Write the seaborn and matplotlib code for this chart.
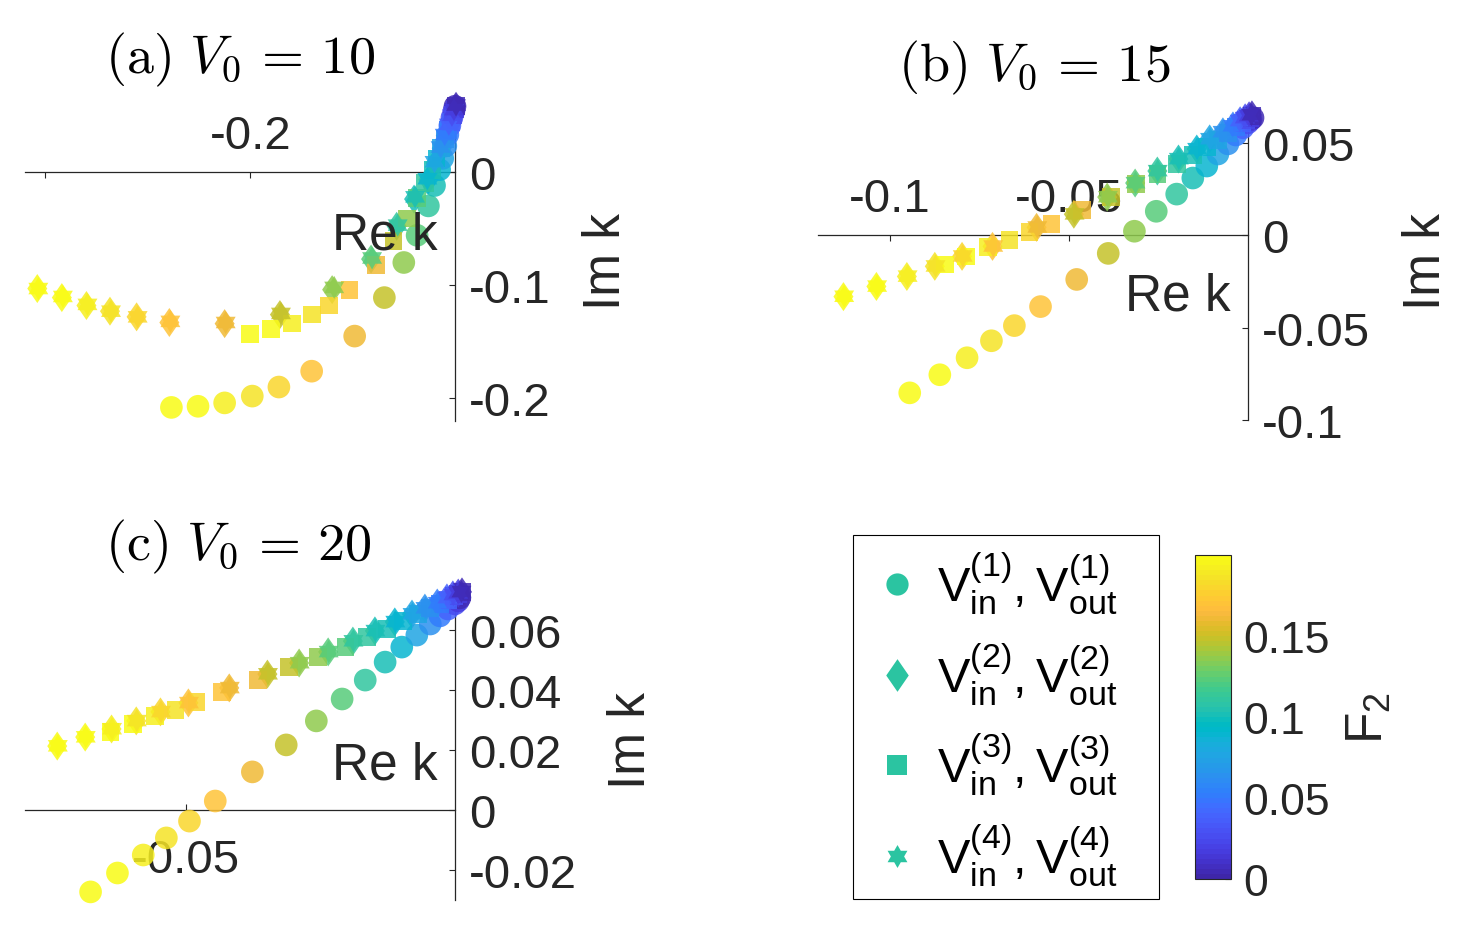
import numpy as np
import pandas as pd
import matplotlib
matplotlib.use("Agg")
import matplotlib.pyplot as plt
import seaborn as sns
from matplotlib.colors import ListedColormap, Normalize
from matplotlib.lines import Line2D
from matplotlib.markers import MarkerStyle
from matplotlib.patches import Rectangle
import matplotlib.cm as cm

# ---------------- data ----------------
F2 = [0.200, 0.197, 0.193, 0.187, 0.180, 0.170, 0.160, 0.148, 0.135, 0.122,
      0.110, 0.100, 0.088, 0.076, 0.064, 0.052, 0.040, 0.028, 0.016, 0.005]

# panel (a) V0 = 10
a_circ_re = [-0.277, -0.251, -0.225, -0.198, -0.172, -0.140, -0.098, -0.069, -0.050, -0.037,
             -0.026, -0.020, -0.015, -0.012, -0.009, -0.007, -0.005, -0.003, -0.001, 0.000]
a_circ_im = [-0.208, -0.207, -0.204, -0.198, -0.190, -0.176, -0.145, -0.111, -0.080, -0.056,
             -0.030, -0.012, 0.002, 0.012, 0.023, 0.033, 0.041, 0.048, 0.054, 0.058]
a_diam_re = [-0.408, -0.384, -0.360, -0.337, -0.311, -0.279, -0.225, -0.171, -0.120, -0.082,
             -0.057, -0.040, -0.026, -0.019, -0.013, -0.009, -0.005, -0.002, 0.000, 0.001]
a_diam_im = [-0.103, -0.111, -0.118, -0.123, -0.128, -0.133, -0.134, -0.126, -0.104, -0.077,
             -0.048, -0.024, -0.007, 0.008, 0.021, 0.032, 0.041, 0.049, 0.054, 0.058]
a_sq_re = [-0.200, -0.180, -0.159, -0.140, -0.123, -0.103, -0.077, -0.060, -0.047, -0.037,
           -0.029, -0.022, -0.018, -0.014, -0.010, -0.007, -0.004, -0.002, 0.000, 0.001]
a_sq_im = [-0.143, -0.139, -0.134, -0.126, -0.118, -0.104, -0.082, -0.061, -0.041, -0.023,
           -0.010, 0.002, 0.012, 0.021, 0.029, 0.037, 0.044, 0.050, 0.055, 0.058]
a_star_re = [-0.407, -0.383, -0.359, -0.336, -0.310, -0.278, -0.224, -0.170, -0.118, -0.081,
             -0.056, -0.039, -0.027, -0.020, -0.014, -0.010, -0.006, -0.003, -0.001, 0.001]
a_star_im = [-0.103, -0.110, -0.117, -0.123, -0.128, -0.132, -0.133, -0.125, -0.102, -0.076,
             -0.047, -0.022, -0.006, 0.009, 0.022, 0.033, 0.042, 0.050, 0.055, 0.059]

# panel (b) V0 = 15
b_circ_re = [-0.0944, -0.0860, -0.0784, -0.0716, -0.0652, -0.0579, -0.0478, -0.0390, -0.0317, -0.0256,
             -0.0199, -0.0154, -0.0115, -0.0084, -0.0056, -0.0034, -0.0014, 0.0000, 0.0008, 0.0014]
b_circ_im = [-0.0853, -0.0755, -0.0663, -0.0571, -0.0489, -0.0386, -0.0239, -0.0098, 0.0022, 0.0130,
             0.0223, 0.0310, 0.0375, 0.0440, 0.0495, 0.0543, 0.0582, 0.0609, 0.0625, 0.0636]
b_diam_re = [-0.1129, -0.1037, -0.0952, -0.0874, -0.0798, -0.0713, -0.0590, -0.0486, -0.0393, -0.0315,
             -0.0253, -0.0194, -0.0143, -0.0107, -0.0070, -0.0042, -0.0022, -0.0008, 0.0003, 0.0011]
b_diam_im = [-0.0332, -0.0277, -0.0223, -0.0168, -0.0114, -0.0060, 0.0043, 0.0114, 0.0207, 0.0283,
             0.0348, 0.0413, 0.0467, 0.0522, 0.0560, 0.0592, 0.0620, 0.0636, 0.0647, 0.0652]
b_sq_re = [-0.0846, -0.0787, -0.0725, -0.0666, -0.0610, -0.0548, -0.0463, -0.0382, -0.0312, -0.0253,
           -0.0199, -0.0154, -0.0115, -0.0084, -0.0056, -0.0034, -0.0017, -0.0006, 0.0006, 0.0011]
b_sq_im = [-0.0158, -0.0114, -0.0065, -0.0027, 0.0016, 0.0060, 0.0136, 0.0207, 0.0277, 0.0332,
           0.0386, 0.0435, 0.0478, 0.0516, 0.0554, 0.0587, 0.0609, 0.0625, 0.0636, 0.0647]
b_star_re = [-0.1127, -0.1035, -0.0950, -0.0872, -0.0796, -0.0711, -0.0588, -0.0484, -0.0391, -0.0314,
             -0.0252, -0.0193, -0.0142, -0.0106, -0.0071, -0.0043, -0.0023, -0.0009, 0.0002, 0.0010]
b_star_im = [-0.0330, -0.0275, -0.0221, -0.0166, -0.0112, -0.0058, 0.0045, 0.0116, 0.0209, 0.0285,
             0.0350, 0.0415, 0.0469, 0.0523, 0.0561, 0.0593, 0.0621, 0.0637, 0.0648, 0.0653]

# panel (c) V0 = 20
c_circ_re = [-0.0678, -0.0628, -0.0580, -0.0537, -0.0494, -0.0446, -0.0377, -0.0314, -0.0258, -0.0210,
             -0.0167, -0.0130, -0.0099, -0.0071, -0.0046, -0.0028, -0.0013, 0.0000, 0.0006, 0.0009]
c_circ_im = [-0.0273, -0.0210, -0.0150, -0.0093, -0.0037, 0.0030, 0.0127, 0.0217, 0.0297, 0.0370,
             0.0433, 0.0493, 0.0543, 0.0583, 0.0620, 0.0647, 0.0670, 0.0687, 0.0697, 0.0707]
c_diam_re = [-0.0740, -0.0688, -0.0639, -0.0593, -0.0548, -0.0496, -0.0420, -0.0349, -0.0290, -0.0236,
             -0.0190, -0.0149, -0.0112, -0.0080, -0.0056, -0.0033, -0.0015, -0.0004, 0.0006, 0.0013]
c_diam_im = [0.0213, 0.0243, 0.0270, 0.0297, 0.0327, 0.0357, 0.0407, 0.0453, 0.0490, 0.0527,
             0.0563, 0.0597, 0.0627, 0.0653, 0.0673, 0.0690, 0.0707, 0.0717, 0.0723, 0.0727]
c_sq_re = [-0.0641, -0.0599, -0.0558, -0.0520, -0.0481, -0.0433, -0.0366, -0.0309, -0.0255, -0.0204,
           -0.0164, -0.0126, -0.0097, -0.0069, -0.0046, -0.0028, -0.0013, -0.0002, 0.0006, 0.0013]
c_sq_im = [0.0260, 0.0287, 0.0313, 0.0333, 0.0360, 0.0393, 0.0433, 0.0477, 0.0510, 0.0543,
           0.0577, 0.0603, 0.0630, 0.0653, 0.0673, 0.0687, 0.0700, 0.0713, 0.0720, 0.0727]
c_star_re = [-0.0739, -0.0687, -0.0638, -0.0592, -0.0547, -0.0495, -0.0419, -0.0348, -0.0289, -0.0235,
             -0.0189, -0.0148, -0.0111, -0.0079, -0.0055, -0.0032, -0.0014, -0.0003, 0.0006, 0.0012]
c_star_im = [0.0214, 0.0244, 0.0271, 0.0298, 0.0328, 0.0358, 0.0408, 0.0454, 0.0491, 0.0528,
             0.0564, 0.0598, 0.0628, 0.0654, 0.0674, 0.0691, 0.0708, 0.0718, 0.0724, 0.0728]

titles = [r"$\mathrm{(a)}\ V_0\,=\,10$", r"$\mathrm{(b)}\ V_0\,=\,15$", r"$\mathrm{(c)}\ V_0\,=\,20$"]
legend_labels = [r"$\mathregular{V_{in}^{(%d)}, V_{out}^{(%d)}}$" % (i, i) for i in (1, 2, 3, 4)]
cbar_ticks = [0, 0.05, 0.1, 0.15]
cbar_ticklabels = ["0", "0.05", "0.1", "0.15"]

# ---------------- style ----------------
parula_rgb = [
    [0.2422, 0.1504, 0.6603], [0.2504, 0.1650, 0.7076], [0.2578, 0.1818, 0.7511], [0.2647, 0.1978, 0.7952],
    [0.2706, 0.2147, 0.8364], [0.2751, 0.2342, 0.8710], [0.2783, 0.2559, 0.8991], [0.2803, 0.2782, 0.9221],
    [0.2813, 0.3006, 0.9414], [0.2810, 0.3228, 0.9579], [0.2795, 0.3447, 0.9717], [0.2760, 0.3667, 0.9829],
    [0.2699, 0.3892, 0.9906], [0.2602, 0.4123, 0.9952], [0.2440, 0.4358, 0.9988], [0.2206, 0.4603, 0.9973],
    [0.1963, 0.4847, 0.9892], [0.1834, 0.5074, 0.9798], [0.1786, 0.5289, 0.9682], [0.1764, 0.5499, 0.9520],
    [0.1687, 0.5703, 0.9359], [0.1540, 0.5902, 0.9218], [0.1460, 0.6091, 0.9079], [0.1380, 0.6276, 0.8973],
    [0.1248, 0.6459, 0.8883], [0.1113, 0.6635, 0.8763], [0.0952, 0.6798, 0.8598], [0.0689, 0.6948, 0.8394],
    [0.0297, 0.7082, 0.8163], [0.0036, 0.7203, 0.7917], [0.0067, 0.7312, 0.7660], [0.0433, 0.7411, 0.7394],
    [0.0964, 0.7500, 0.7120], [0.1408, 0.7584, 0.6842], [0.1717, 0.7670, 0.6554], [0.1938, 0.7758, 0.6251],
    [0.2161, 0.7843, 0.5923], [0.2470, 0.7918, 0.5567], [0.2906, 0.7973, 0.5188], [0.3406, 0.8008, 0.4789],
    [0.3909, 0.8029, 0.4354], [0.4456, 0.8024, 0.3909], [0.5044, 0.7993, 0.3480], [0.5616, 0.7942, 0.3045],
    [0.6174, 0.7876, 0.2612], [0.6720, 0.7793, 0.2227], [0.7242, 0.7698, 0.1910], [0.7738, 0.7598, 0.1646],
    [0.8203, 0.7498, 0.1535], [0.8634, 0.7406, 0.1596], [0.9035, 0.7330, 0.1774], [0.9393, 0.7288, 0.2100],
    [0.9728, 0.7298, 0.2394], [0.9956, 0.7434, 0.2371], [0.9970, 0.7659, 0.2199], [0.9952, 0.7893, 0.2028],
    [0.9892, 0.8136, 0.1885], [0.9786, 0.8386, 0.1766], [0.9676, 0.8639, 0.1643], [0.9610, 0.8890, 0.1537],
    [0.9597, 0.9135, 0.1423], [0.9628, 0.9373, 0.1265], [0.9691, 0.9606, 0.1064], [0.9769, 0.9839, 0.0805]]
parula = ListedColormap(parula_rgb, name="parula")
norm = Normalize(0, 0.2)

sns.set_theme(style="white")
plt.rcParams["font.family"] = ["Liberation Sans", "DejaVu Sans"]
plt.rcParams["axes.unicode_minus"] = False
TXT = "#262626"

W, H = 1462, 937
fig = plt.figure(figsize=(W / 100, H / 100), dpi=100)


def box(l, t, r, b):
    return [l / W, 1 - b / H, (r - l) / W, (b - t) / H]


def fp(x, y):
    return (x / W, 1 - y / H)


hex_ang = np.deg2rad(90 + 30 * np.arange(12))
hex_rad = np.where(np.arange(12) % 2 == 0, 1.0, 1 / np.sqrt(3))
hexagram = MarkerStyle(list(zip(hex_rad * np.cos(hex_ang), hex_rad * np.sin(hex_ang))))
diamond = MarkerStyle([(0, 1), (0.69, 0), (0, -1), (-0.69, 0)])

panels = [
    dict(data=[(a_circ_re, a_circ_im), (a_diam_re, a_diam_im), (a_sq_re, a_sq_im), (a_star_re, a_star_im)],
         box=(25, 105, 455, 422), xlim=(-0.42, 0), ylim=(-0.22, 0.06),
         xticks=[-0.4, -0.2], xtl=["", "-0.2"], yticks=[-0.2, -0.1, 0], ytl=["-0.2", "-0.1", "0"],
         xtop=True, title=(105, 73), rek=(385, 249), imk=(620, 262)),
    dict(data=[(b_circ_re, b_circ_im), (b_diam_re, b_diam_im), (b_sq_re, b_sq_im), (b_star_re, b_star_im)],
         box=(818, 107, 1248, 421), xlim=(-0.12, 0), ylim=(-0.1, 0.07),
         xticks=[-0.1, -0.05], xtl=["-0.1", "-0.05"], yticks=[-0.1, -0.05, 0, 0.05],
         ytl=["-0.1", "-0.05", "0", "0.05"],
         xtop=True, title=(898, 81), rek=(1178, 311), imk=(1440, 262)),
    dict(data=[(c_circ_re, c_circ_im), (c_diam_re, c_diam_im), (c_sq_re, c_sq_im), (c_star_re, c_star_im)],
         box=(25, 601, 455, 901), xlim=(-0.08, 0), ylim=(-0.03, 0.07),
         xticks=[-0.05], xtl=["-0.05"], yticks=[-0.02, 0, 0.02, 0.04, 0.06],
         ytl=["-0.02", "0", "0.02", "0.04", "0.06"],
         xtop=False, title=(105, 560), rek=(385, 780), imk=(645, 741)),
]

markers = [("o", 266), (diamond, 436), ("s", 162), (hexagram, 275)]

for p, title in zip(panels, titles):
    ax = fig.add_axes(box(*p["box"]))
    ax.set_facecolor("none")
    for (re, im), (mk, sz) in zip(p["data"], markers):
        df = pd.DataFrame({"re": re, "im": im, "F2": F2})
        sns.scatterplot(data=df, x="re", y="im", hue="F2", palette=parula, hue_norm=(0, 0.2),
                        marker=mk, s=sz, alpha=0.85, edgecolor="none", linewidth=0,
                        legend=False, clip_on=False, ax=ax)
    ax.set_xlim(*p["xlim"])
    ax.set_ylim(*p["ylim"])
    ax.set_xlabel("")
    ax.set_ylabel("")
    ax.grid(False)
    ax.spines["left"].set_visible(False)
    ax.spines["right"].set_position(("data", 0))
    ax.yaxis.set_ticks_position("right")
    if p["xtop"]:
        ax.spines["bottom"].set_visible(False)
        ax.spines["top"].set_position(("data", 0))
        ax.xaxis.set_ticks_position("top")
        xpad = 10
    else:
        ax.spines["top"].set_visible(False)
        ax.spines["bottom"].set_position(("data", 0))
        ax.xaxis.set_ticks_position("bottom")
        xpad = 20
    for sp in ax.spines.values():
        sp.set_linewidth(0.9)
        sp.set_color(TXT)
        sp.set_zorder(0.5)
    ax.set_xticks(p["xticks"])
    ax.set_xticklabels(p["xtl"])
    ax.set_yticks(p["yticks"])
    ax.set_yticklabels(p["ytl"])
    ax.tick_params(axis="x", direction="in", length=4, width=0.8, colors=TXT, labelsize=34, pad=xpad)
    ax.tick_params(axis="y", direction="in", length=4, width=0.8, colors=TXT, labelsize=34, pad=10)
    for lab in ax.get_xticklabels() + ax.get_yticklabels():
        lab.set_zorder(5)
    fig.text(*fp(*p["title"]), title, math_fontfamily="cm", fontsize=39, ha="left", va="baseline",
             color="black")
    fig.text(*fp(*p["rek"]), "Re k", fontsize=37, ha="center", va="baseline", color=TXT, zorder=10)
    fig.text(*fp(*p["imk"]), "Im k", fontsize=37, ha="center", va="baseline", color=TXT,
             rotation=90, rotation_mode="anchor", zorder=10)

# colorbar
cax = fig.add_axes(box(1195, 556, 1231, 880))
sm = cm.ScalarMappable(norm=norm, cmap=parula)
cb = fig.colorbar(sm, cax=cax)
cb.outline.set_linewidth(0.8)
cb.outline.set_edgecolor(TXT)
cb.set_ticks(cbar_ticks)
cb.set_ticklabels(cbar_ticklabels)
cax.tick_params(direction="in", length=4, width=0.8, colors=TXT, labelsize=32, pad=9)
fig.text(*fp(1383, 718), r"$\mathregular{F_2}$", fontsize=37, ha="center", va="baseline",
         rotation=90, rotation_mode="anchor", color=TXT)

# legend
leg_color = (0.17, 0.77, 0.63)
handles = [
    Line2D([], [], ls="none", marker="o", markersize=16, color=leg_color, markeredgewidth=0),
    Line2D([], [], ls="none", marker=diamond, markersize=23.5, color=leg_color, markeredgewidth=0),
    Line2D([], [], ls="none", marker="s", markersize=14, color=leg_color, markeredgewidth=0),
    Line2D([], [], ls="none", marker=hexagram, markersize=16.5, color=leg_color, markeredgewidth=0),
]
leg = fig.legend(handles, legend_labels, loc="center left", bbox_to_anchor=fp(873, 720),
                 bbox_transform=fig.transFigure, frameon=False, borderaxespad=0, borderpad=0,
                 prop={"family": "Liberation Sans", "size": 35},
                 labelspacing=0.5, handletextpad=0.34, handlelength=0.97, labelcolor="black")
fig.add_artist(Rectangle(fp(853, 900), 306 / W, 364 / H, transform=fig.transFigure,
                         fill=False, edgecolor="black", linewidth=0.8))

fig.savefig("out.png", dpi=100)
